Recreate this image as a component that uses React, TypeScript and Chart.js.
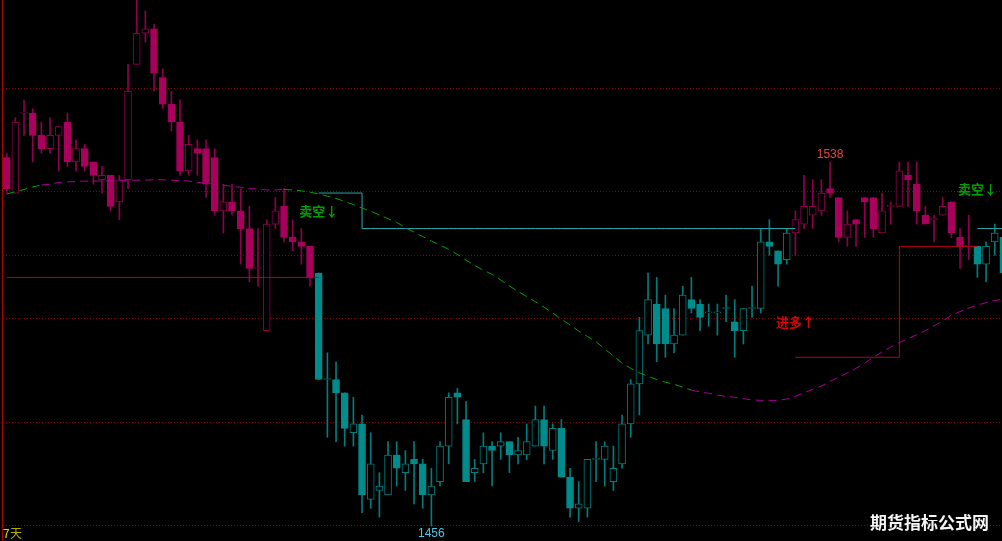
import React, { useEffect, useRef } from 'react';
import { Chart, registerables } from 'chart.js';

Chart.register(...registerables);

// ---- candle data (index 0..115) ----
const opens = [
  1539, 1531, 1549, 1549, 1544, 1541, 1544, 1547, 1538, 1541,
  1538, 1534, 1535, 1529, 1534, 1560, 1567, 1568, 1557, 1551,
  1547, 1536, 1541, 1541, 1539, 1527, 1529, 1527, 1523, 1514,
  1500, 1524, 1528, 1521, 1520, 1519, 1513, 1489, 1489, 1486,
  1477, 1479, 1462, 1464, 1463, 1472, 1468, 1471, 1470, 1463,
  1466, 1474, 1486, 1480, 1468, 1470, 1474, 1474, 1475, 1472,
  1472, 1474, 1480, 1473, 1478, 1467, 1460, 1460, 1471, 1471,
  1466, 1470, 1479, 1488, 1499, 1506, 1505, 1497, 1499, 1507,
  1506, 1504, 1504, 1505, 1502, 1500, 1505, 1505, 1520, 1518,
  1516, 1522, 1524, 1526, 1527, 1532, 1530, 1521, 1525, 1530,
  1530, 1522, 1528, 1528, 1535, 1533, 1526, 1525, 1526, 1529,
  1521, 1519, 1519, 1515, 1520, 1521,
];
const highs = [
  1540, 1548, 1552, 1550, 1547, 1548, 1546, 1549, 1543, 1542,
  1538, 1537, 1535, 1535, 1560, 1577, 1572, 1569, 1559, 1554,
  1552, 1544, 1543, 1543, 1541, 1533, 1533, 1532, 1528, 1523,
  1525, 1530, 1532, 1525, 1523, 1519, 1513, 1495, 1493, 1486,
  1485, 1481, 1477, 1468, 1475, 1475, 1473, 1475, 1471, 1469,
  1475, 1486, 1487, 1484, 1471, 1477, 1475, 1477, 1475, 1476,
  1479, 1483, 1483, 1479, 1480, 1469, 1466, 1471, 1475, 1475,
  1474, 1481, 1489, 1503, 1513, 1512, 1508, 1505, 1510, 1512,
  1507, 1506, 1506, 1508, 1507, 1505, 1510, 1523, 1525, 1518,
  1523, 1527, 1535, 1534, 1534, 1538, 1530, 1527, 1525, 1530,
  1530, 1531, 1529, 1538, 1538, 1538, 1528, 1526, 1530, 1529,
  1523, 1526, 1519, 1520, 1524, 1524,
];
const lows = [
  1531, 1531, 1544, 1538, 1540, 1540, 1536, 1537, 1536, 1536,
  1533, 1531, 1527, 1525, 1532, 1560, 1565, 1554, 1550, 1545,
  1535, 1535, 1535, 1530, 1526, 1522, 1526, 1515, 1511, 1510,
  1500, 1523, 1520, 1518, 1515, 1510, 1489, 1476, 1475, 1474,
  1474, 1459, 1460, 1458, 1463, 1465, 1464, 1461, 1460, 1456,
  1465, 1470, 1479, 1466, 1466, 1468, 1465, 1471, 1468, 1470,
  1471, 1474, 1470, 1471, 1467, 1458, 1457, 1458, 1466, 1465,
  1464, 1469, 1476, 1481, 1497, 1493, 1494, 1495, 1499, 1504,
  1500, 1501, 1499, 1502, 1494, 1497, 1503, 1504, 1517, 1510,
  1515, 1517, 1523, 1523, 1526, 1530, 1520, 1519, 1519, 1521,
  1521, 1522, 1524, 1528, 1528, 1524, 1524, 1520, 1526, 1521,
  1514, 1516, 1512, 1511, 1517, 1513,
];
const closes = [
  1532, 1547, 1549, 1544, 1541, 1544, 1546, 1538, 1541, 1537,
  1535, 1535, 1528, 1534, 1554, 1567, 1568, 1558, 1551, 1547,
  1536, 1542, 1540, 1533, 1527, 1529, 1527, 1523, 1514, 1514,
  1524, 1527, 1521, 1520, 1519, 1512, 1489, 1489, 1486, 1478,
  1479, 1463, 1470, 1465, 1472, 1469, 1470, 1470, 1463, 1465,
  1474, 1485, 1485, 1466, 1469, 1474, 1473, 1475, 1472, 1473,
  1475, 1480, 1474, 1478, 1467, 1460, 1461, 1471, 1471, 1474,
  1469, 1479, 1488, 1500, 1507, 1497, 1497, 1499, 1508, 1505,
  1503, 1504, 1504, 1505, 1500, 1505, 1505, 1520, 1519, 1515,
  1522, 1525, 1528, 1528, 1531, 1531, 1521, 1524, 1524, 1529,
  1523, 1527, 1528, 1536, 1534, 1527, 1524, 1525, 1528, 1522,
  1519, 1519, 1515, 1519, 1522, 1513,
];

// ---- moving average line ----
const maValues = [
  1530.8, 1531.3, 1531.8, 1532.4, 1532.8, 1533.0, 1533.4, 1533.5, 1533.6, 1533.7,
  1533.7, 1533.7, 1533.8, 1533.8, 1533.9, 1533.9, 1533.9, 1534.0, 1534.0, 1533.9,
  1533.8, 1533.7, 1533.4, 1533.2, 1533.0, 1532.8, 1532.5, 1532.3, 1532.0, 1531.9,
  1531.7, 1531.7, 1531.8, 1531.7, 1531.5, 1531.2, 1530.8, 1530.3, 1529.8, 1529.1,
  1528.4, 1527.6, 1526.9, 1526.1, 1525.2, 1524.4, 1523.2, 1522.2, 1521.2, 1520.2,
  1519.3, 1518.3, 1517.2, 1515.9, 1514.7, 1513.6, 1512.7, 1511.4, 1510.1, 1508.8,
  1507.7, 1506.5, 1505.3, 1504.0, 1502.6, 1501.3, 1499.9, 1498.7, 1497.5, 1495.9,
  1494.3, 1492.7, 1491.5, 1490.5, 1489.7, 1489.0, 1488.4, 1487.9, 1487.3, 1486.6,
  1486.2, 1485.9, 1485.5, 1485.2, 1485.0, 1484.7, 1484.4, 1484.3, 1484.3, 1484.3,
  1484.6, 1485.2, 1486.0, 1486.8, 1487.5, 1488.6, 1489.5, 1490.5, 1491.5, 1492.7,
  1494.0, 1495.2, 1496.3, 1497.3, 1498.2, 1499.1, 1500.0, 1501.1, 1502.2, 1503.5,
  1504.3, 1505.1, 1505.8, 1506.3, 1506.8, 1507.1,
];
const maGreenFrom = [0, 32];
const maGreenTo = [3, 78];

// ---- signal state (candle colour) ----
const signalStart = [0, 36, 91, 112];
const signalSide = ['long', 'short', 'long', 'short'];

// ---- stop (step) line ----
const stopFrom = [0, 36, 41, 91, 103, 112];
const stopTo = [36, 40, 91, 102, 112, 115];
const stopValue = [1512, 1531, 1523, 1494, 1519, 1523];
const stopSide = ['long', 'short', 'short', 'long', 'long', 'short'];

// ---- horizontal grid levels ----
const gridLevels = [1554.6, 1531.4, 1517.0, 1502.8, 1479.4, 1456.0];

// ---- text labels ----
const signalLabelText = ['卖空↓', '进多↑', '卖空↓'];
const signalLabelIndex = [36, 91, 112];
const signalLabelValue = [1527, 1502, 1532];
const signalLabelSide = ['short', 'long', 'short'];
const extremeIndex = [95, 49];
const extremeValue = [1538, 1456];
const extremeKind = ['high', 'low'];

const LONG_FILL = '#A8005C';
const LONG_LINE = '#8E004C';
const SHORT_FILL = '#008C8C';
const SHORT_LINE = '#007C7C';

export default function App() {
  const canvasRef = useRef<HTMLCanvasElement | null>(null);

  useEffect(() => {
    const canvas = canvasRef.current;
    if (!canvas) return;
    const idx = opens.map((_, i) => i);
    const side = idx.map((i) => {
      let s = signalSide[0];
      signalStart.forEach((st, k) => {
        if (i >= st) s = signalSide[k];
      });
      return s;
    });
    const up = idx.map((i) => closes[i] >= opens[i]);
    const fill = (s: string) => (s === 'long' ? LONG_FILL : SHORT_FILL);
    const line = (s: string) => (s === 'long' ? LONG_LINE : SHORT_LINE);

    const stopSeries = (which: string) =>
      idx.map((i) => {
        let v: number | null = null;
        stopFrom.forEach((f, k) => {
          if (stopSide[k] === which && i >= f && i <= stopTo[k]) v = stopValue[k];
        });
        return { x: i, y: v };
      });

    const isGreen = (i: number) =>
      maGreenFrom.some((f, k) => i >= f && i <= maGreenTo[k]);

    const textPlugin = {
      id: 'texts',
      afterDatasetsDraw(chart: any) {
        const { ctx, scales } = chart;
        const xs = scales.x;
        const ys = scales.y;
        ctx.save();
        ctx.font = 'bold 13px "Noto Sans CJK SC"';
        ctx.textAlign = 'center';
        ctx.textBaseline = 'middle';
        signalLabelText.forEach((t, k) => {
          ctx.fillStyle = signalLabelSide[k] === 'short' ? '#00A000' : '#E00000';
          ctx.fillText(t, xs.getPixelForValue(signalLabelIndex[k]), ys.getPixelForValue(signalLabelValue[k]));
        });
        ctx.font = '12px "Liberation Sans"';
        extremeIndex.forEach((ix, k) => {
          const px = xs.getPixelForValue(ix);
          const py = ys.getPixelForValue(extremeValue[k]);
          if (extremeKind[k] === 'high') {
            ctx.fillStyle = '#E8463C';
            ctx.textBaseline = 'bottom';
            ctx.fillText(String(extremeValue[k]), px, py - 1);
          } else {
            ctx.fillStyle = '#4CC8E0';
            ctx.textBaseline = 'top';
            ctx.fillText(String(extremeValue[k]), px, py + 2);
          }
        });
        ctx.textAlign = 'left';
        ctx.textBaseline = 'middle';
        ctx.font = '12px "Noto Sans CJK SC"';
        ctx.fillStyle = '#E0E000';
        ctx.fillText('7', 3, 533);
        ctx.fillStyle = '#B0B000';
        ctx.fillText('天', 10, 533);
        ctx.font = 'bold 17px "Noto Sans CJK SC"';
        ctx.fillStyle = '#F4F4F4';
        ctx.fillText('期货指标公式网', 870, 523);
        ctx.restore();
      },
    };

    const chart = new Chart(canvas, {
      type: 'bar',
      data: {
        datasets: [
          {
            type: 'line',
            label: 'ma',
            data: idx.map((i) => ({ x: i, y: maValues[i] })),
            borderColor: '#A8009A',
            borderWidth: 1,
            borderDash: [8, 5],
            pointRadius: 0,
            tension: 0,
            order: 1,
            segment: {
              borderColor: (c: any) => (isGreen(c.p0DataIndex) ? '#00A000' : '#A8009A'),
            },
          } as any,
          {
            type: 'line',
            label: 'longStop',
            data: stopSeries('long'),
            borderColor: '#C00010',
            borderWidth: 1,
            pointRadius: 0,
            stepped: 'before',
            spanGaps: false,
            order: 2,
          } as any,
          {
            type: 'line',
            label: 'shortStop',
            data: stopSeries('short'),
            borderColor: '#28ACAC',
            borderWidth: 1,
            pointRadius: 0,
            stepped: 'before',
            spanGaps: false,
            order: 2,
          } as any,
          {
            type: 'bar',
            label: 'body',
            data: idx.map((i) => ({ x: i, y: [opens[i], closes[i]] })),
            backgroundColor: idx.map((i) => (up[i] ? '#000000' : fill(side[i]))),
            borderColor: idx.map((i) => (up[i] ? line(side[i]) : fill(side[i]))),
            borderWidth: 1,
            borderSkipped: false,
            barThickness: 7,
            minBarLength: 1,
            grouped: false,
            order: 4,
          } as any,
          {
            type: 'bar',
            label: 'wick',
            data: idx.map((i) => ({ x: i, y: [lows[i], highs[i]] })),
            backgroundColor: idx.map((i) => line(side[i])),
            borderWidth: 0,
            barThickness: 1,
            grouped: false,
            order: 5,
          } as any,
        ],
      },
      options: {
        animation: false,
        responsive: true,
        maintainAspectRatio: false,
        events: [],
        layout: { padding: { left: 2, right: 0, top: 0, bottom: 0 } },
        plugins: {
          legend: { display: false },
          tooltip: { enabled: false },
        },
        scales: {
          x: {
            type: 'linear',
            min: -0.542,
            max: 114.84,
            offset: false,
            display: false,
          },
          y: {
            type: 'linear',
            min: 1452.62,
            max: 1574.49,
            display: true,
            afterBuildTicks: (scale: any) => {
              scale.ticks = gridLevels.map((v) => ({ value: v }));
            },
            ticks: { display: false },
            grid: { color: '#8B0000', lineWidth: 1, drawTicks: false },
            border: { display: true, color: '#A80000', width: 1, dash: [1, 2] },
          },
        },
      } as any,
      plugins: [textPlugin],
    });
    return () => chart.destroy();
  }, []);

  return (
    <div
      style={{
        position: 'fixed',
        left: 0,
        top: 0,
        width: 1002,
        height: 541,
        background: '#000000',
      }}
    >
      <canvas ref={canvasRef} />
    </div>
  );
}
